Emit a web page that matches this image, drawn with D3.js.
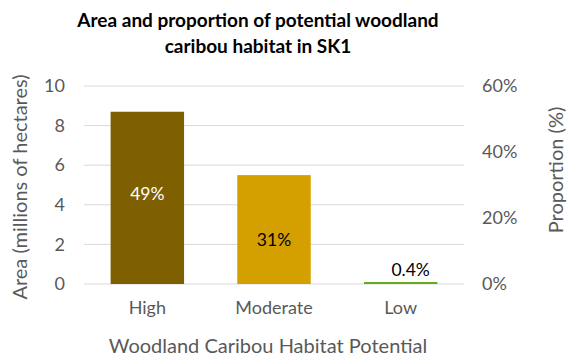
<!DOCTYPE html>
<html><head><meta charset="utf-8">
<script src="https://cdn.jsdelivr.net/npm/d3@7"></script>
<style>body{margin:0;background:#fff}text{font-family:Lato,"Open Sans","Noto Sans",sans-serif}</style>
</head><body><svg id="c" width="569" height="359"></svg>
<script>
const categories = ["High", "Moderate", "Low"];
const areaValues = [8.7, 5.5, 0.1];
const proportionLabels = ["49%", "31%", "0.4%"];
const leftTicks = [0, 2, 4, 6, 8, 10];
const rightTicks = [0, 0.2, 0.4, 0.6];
const barColors = ["#7f6000", "#d4a000", "#62ac1c"];
const labelColors = ["#ffffff", "#000000", "#000000"];

const svg = d3.select("#c");
const m = {l: 84, r: 464, t: 86, b: 284};
const x = d3.scaleBand().domain(categories).range([m.l, m.r]).paddingInner(0.42).paddingOuter(0.21);
const y = d3.scaleLinear().domain([0, 10]).range([m.b, m.t]);
const y2 = d3.scaleLinear().domain([0, 0.6]).range([m.b, m.t]);

// gridlines
svg.append("g").selectAll("line").data(leftTicks).join("line")
  .attr("x1", m.l).attr("x2", m.r).attr("y1", d => y(d)).attr("y2", d => y(d))
  .attr("stroke", "#d9d9d9").attr("stroke-width", 1);

// left axis
const la = svg.append("g").attr("transform", `translate(${m.l},0)`)
  .call(d3.axisLeft(y).tickValues(leftTicks).tickSize(0).tickPadding(19));
la.select(".domain").remove();
la.selectAll("text").attr("font-size", 18).attr("fill", "#595959");

// right axis
const ra = svg.append("g").attr("transform", `translate(${m.r},0)`)
  .call(d3.axisRight(y2).tickValues(rightTicks).tickFormat(d3.format(".0%")).tickSize(0).tickPadding(18));
ra.select(".domain").remove();
ra.selectAll("text").attr("font-size", 18).attr("fill", "#595959");

// bars
svg.append("g").selectAll("rect").data(areaValues).join("rect")
  .attr("x", (d, i) => x(categories[i])).attr("width", x.bandwidth())
  .attr("y", d => y(d)).attr("height", d => y(0) - y(d))
  .attr("fill", (d, i) => barColors[i]);

// data labels
const dy = [-4, 10, 0];
svg.append("g").selectAll("text").data(areaValues).join("text")
  .attr("x", (d, i) => x(categories[i]) + x.bandwidth() / 2 + (i === 2 ? 10 : 0))
  .attr("y", (d, i) => i < 2 ? (y(d) + y(0)) / 2 + dy[i] : y(d) - 13)
  .attr("text-anchor", "middle").attr("dominant-baseline", "central")
  .attr("font-size", 17.5).attr("fill", (d, i) => labelColors[i])
  .text((d, i) => proportionLabels[i]);

// x axis labels
const xa = svg.append("g").attr("transform", `translate(0,${m.b})`)
  .call(d3.axisBottom(x).tickSize(0).tickPadding(17));
xa.select(".domain").remove();
xa.selectAll("text").attr("font-size", 18).attr("fill", "#595959");

// titles
const title = svg.append("text").attr("text-anchor", "middle").attr("font-size", 19)
  .attr("font-weight", "bold").attr("fill", "#000");
title.append("tspan").attr("x", 258).attr("y", 27).text("Area and proportion of potential woodland");
title.append("tspan").attr("x", 258).attr("y", 53).text("caribou habitat in SK1");

svg.append("text").attr("transform", `translate(19,187) rotate(-90)`)
  .attr("text-anchor", "middle").attr("dominant-baseline", "central")
  .attr("font-size", 20).attr("fill", "#595959").text("Area (millions of hectares)");
svg.append("text").attr("transform", `translate(555,170) rotate(-90)`)
  .attr("text-anchor", "middle").attr("dominant-baseline", "central")
  .attr("font-size", 20).attr("fill", "#595959").text("Proportion (%)");
svg.append("text").attr("x", 268).attr("y", 353)
  .attr("text-anchor", "middle").attr("font-size", 20).attr("fill", "#595959")
  .text("Woodland Caribou Habitat Potential");
</script></body></html>
